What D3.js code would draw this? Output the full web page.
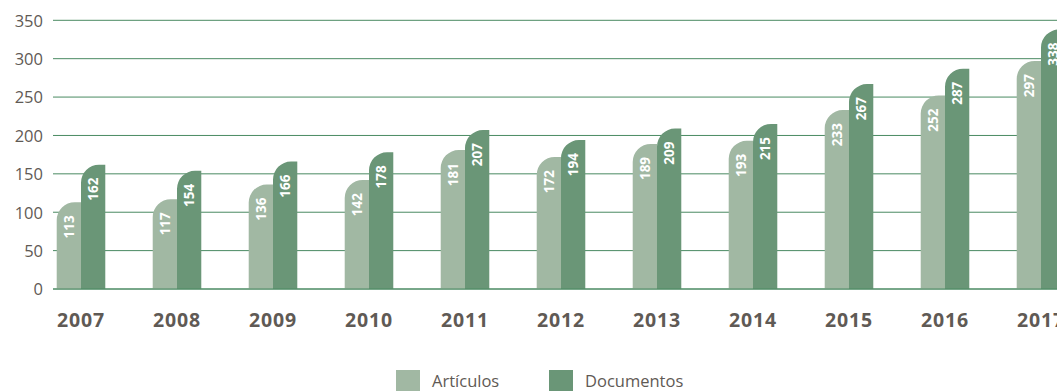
<!DOCTYPE html>
<html>
<head>
<meta charset="utf-8">
<script src="https://cdn.jsdelivr.net/npm/d3@7"></script>
<style>
  html, body { margin: 0; padding: 0; background: #ffffff; }
  svg { display: block; font-family: "Open Sans", "Lato", sans-serif; }
</style>
</head>
<body>
<svg id="chart" width="1057" height="391"></svg>
<script>
// Publications per year
const years = ["2007", "2008", "2009", "2010", "2011", "2012", "2013", "2014", "2015", "2016", "2017"];
const articulos = [113, 117, 136, 142, 181, 172, 189, 193, 233, 252, 297];
const documentos = [162, 154, 166, 178, 207, 194, 209, 215, 267, 287, 338];
const seriesNames = ["Artículos", "Documentos"];
const seriesColors = ["#a1b8a3", "#6a9677"];
const yTicks = [0, 50, 100, 150, 200, 250, 300, 350];

const svg = d3.select("#chart");

const y = d3.scaleLinear().domain([0, 350]).range([289, 20.3]);
const x0 = d3.scaleBand().domain(years).range([33, 1089])
  .paddingInner(0.494).paddingOuter(0.247);
const x1 = d3.scaleBand().domain(seriesNames).range([0, x0.bandwidth()]);
const color = d3.scaleOrdinal().domain(seriesNames).range(seriesColors);

const rows = years.map((yr, i) => ({
  year: yr,
  values: [
    { key: seriesNames[0], value: articulos[i] },
    { key: seriesNames[1], value: documentos[i] }
  ]
}));

// Gridlines with tick labels
const yAxis = d3.axisLeft(y).tickValues(yTicks).tickSize(0).tickPadding(0);
const gy = svg.append("g").attr("transform", "translate(43,0)").call(yAxis);
gy.select(".domain").remove();
gy.selectAll("text")
  .attr("x", 0)
  .attr("dy", "0.35em")
  .style("font-family", "'Open Sans', sans-serif")
  .style("font-size", "16.5px")
  .style("fill", "#5f5a55");

svg.append("g").selectAll("line")
  .data(yTicks)
  .join("line")
  .attr("x1", 53)
  .attr("x2", 1057)
  .attr("y1", d => y(d))
  .attr("y2", d => y(d))
  .attr("stroke", "#4a8a62")
  .attr("stroke-width", 1);

// Bars with a rounded top-left corner
const r = 18;
function barPath(x, w, top, bottom) {
  const rr = Math.min(r, w, bottom - top);
  return `M${x},${bottom}L${x},${top + rr}` +
    `A${rr},${rr} 0 0 1 ${x + rr},${top}` +
    `L${x + w},${top}L${x + w},${bottom}Z`;
}

const groups = svg.append("g").selectAll("g")
  .data(rows)
  .join("g")
  .attr("transform", d => `translate(${x0(d.year)},0)`);

groups.selectAll("path")
  .data(d => d.values)
  .join("path")
  .attr("d", d => barPath(x1(d.key), x1.bandwidth(), y(d.value), y(0)))
  .attr("fill", d => color(d.key));

// Value labels, rotated, near the top of each bar
groups.selectAll("text")
  .data(d => d.values)
  .join("text")
  .attr("transform", d => {
    const cx = x1(d.key) + x1.bandwidth() / 2;
    const cy = y(d.value) + 13;
    return `translate(${cx},${cy}) rotate(-90)`;
  })
  .attr("text-anchor", "end")
  .attr("dy", "0.36em")
  .style("font-family", "'Open Sans', sans-serif")
  .style("font-weight", "700")
  .style("font-size", "13.5px")
  .style("fill", "#ffffff")
  .text(d => d.value);

// Baseline
svg.append("line")
  .attr("x1", 53).attr("x2", 1057)
  .attr("y1", y(0)).attr("y2", y(0))
  .attr("stroke", "#4a8a62").attr("stroke-width", 1);

// Year labels
const xAxis = d3.axisBottom(x0).tickSize(0).tickPadding(0);
const gx = svg.append("g").attr("transform", "translate(0,327)").call(xAxis);
gx.select(".domain").remove();
gx.selectAll("text")
  .attr("y", 0)
  .attr("dy", 0)
  .style("font-family", "'Open Sans', sans-serif")
  .style("font-weight", "700")
  .style("font-size", "19.5px")
  .style("letter-spacing", "0.8px")
  .style("fill", "#5f5a55");

// Legend
const legendX = [396, 549];
const legend = svg.append("g").selectAll("g")
  .data(seriesNames)
  .join("g")
  .attr("transform", (d, i) => `translate(${legendX[i]},370)`);
legend.append("rect")
  .attr("width", 24).attr("height", 22)
  .attr("fill", d => color(d));
legend.append("text")
  .attr("x", 36).attr("y", 16.5)
  .style("font-family", "'Open Sans', sans-serif")
  .style("font-size", "16.5px")
  .style("fill", "#5f5a55")
  .text(d => d);
</script>
</body>
</html>
